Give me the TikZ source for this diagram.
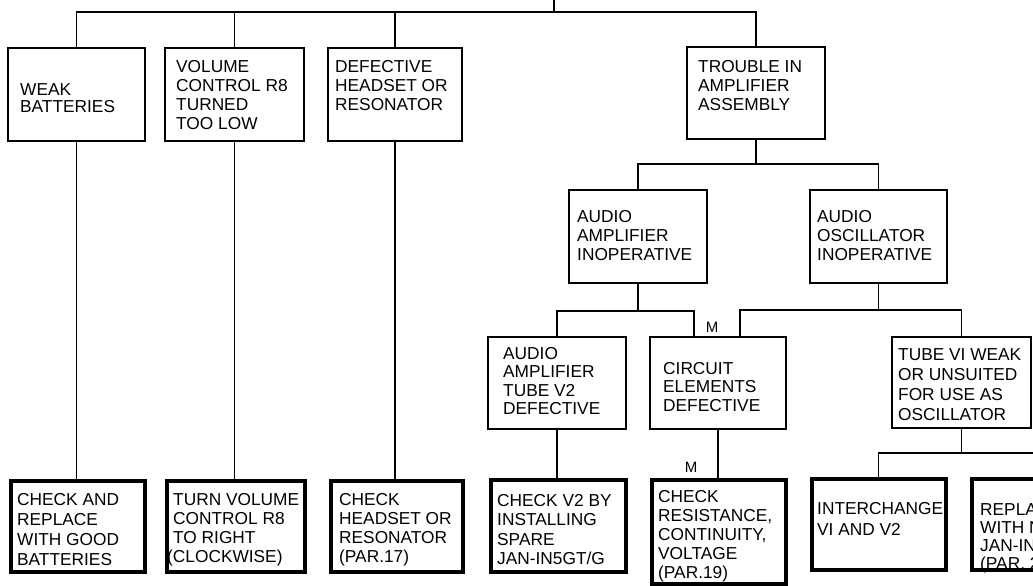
\documentclass[tikz,border=0pt]{standalone}
\usepackage{fontspec}
\setmainfont{Liberation Sans}
\usetikzlibrary{calc}
\tikzset{
  conn/.style={line width=1.8pt},
  sbox/.style={draw, line width=2.1pt, inner sep=0pt},
  tbox/.style={draw, line width=4pt, inner sep=0pt},
  txt/.style={anchor=north west, inner sep=0pt, align=left, font=\fontsize{17.3}{19}\selectfont},
  mlab/.style={inner sep=0pt, font=\fontsize{15}{15}\selectfont},
}
\begin{document}
\begin{tikzpicture}[x=1pt,y=-1pt]
\useasboundingbox (0,0) rectangle (1033,586);
\fill[white] (0,0) rectangle (1033,586);
\clip (0,0) rectangle (1033,586);

% ---- boxes, top row
\node[sbox, minimum width=137pt, minimum height=93pt] (b1) at (76.5,94.5) {};
\node[sbox, minimum width=139pt, minimum height=93pt] (b2) at (234.5,94.5) {};
\node[sbox, minimum width=134pt, minimum height=93pt] (b3) at (395,94.5) {};
\node[sbox, minimum width=138pt, minimum height=92pt] (b4) at (756,93) {};
% ---- second level
\node[sbox, minimum width=138pt, minimum height=93pt] (a1) at (638,236.5) {};
\node[sbox, minimum width=137pt, minimum height=93pt] (a2) at (878.5,236.5) {};
% ---- third level
\node[sbox, minimum width=138pt, minimum height=92pt] (c1) at (557,383) {};
\node[sbox, minimum width=136pt, minimum height=92pt] (c2) at (718,383) {};
\node[sbox, minimum width=139pt, minimum height=91pt] (c3) at (961.5,382.5) {};
% ---- bottom row (remedies)
\node[tbox, minimum width=134pt, minimum height=91pt] (d1) at (77.5,526) {};
\node[tbox, minimum width=138pt, minimum height=91pt] (d2) at (236,526) {};
\node[tbox, minimum width=132pt, minimum height=91pt] (d3) at (397,526) {};
\node[tbox, minimum width=135pt, minimum height=92pt] (d4) at (558,525.5) {};
\node[tbox, minimum width=134pt, minimum height=104pt] (d5) at (718.5,531.5) {};
\node[tbox, minimum width=134pt, minimum height=91pt] (d6) at (878.5,524) {};
\node[tbox, minimum width=134pt, minimum height=91pt] (d7) at (1039,524) {};

% ---- texts
\node[txt, font=\fontsize{17.3}{17.5}\selectfont] at (20,83) {WEAK\\BATTERIES};
\node[txt] at (176,60) {VOLUME\\CONTROL R8\\TURNED\\TOO LOW};
\node[txt] at (335,60) {DEFECTIVE\\HEADSET OR\\RESONATOR};
\node[txt] at (698,60) {TROUBLE IN\\AMPLIFIER\\ASSEMBLY};
\node[txt] at (577,210) {AUDIO\\AMPLIFIER\\INOPERATIVE};
\node[txt] at (817,210) {AUDIO\\OSCILLATOR\\INOPERATIVE};
\node[txt, font=\fontsize{17.3}{18.5}\selectfont] at (503,347) {AUDIO\\AMPLIFIER\\TUBE V2\\DEFECTIVE};
\node[txt, font=\fontsize{17.3}{18.5}\selectfont] at (663,362) {CIRCUIT\\ELEMENTS\\DEFECTIVE};
\node[txt, font=\fontsize{17.3}{20}\selectfont] at (898,348) {TUBE VI WEAK\\OR UNSUITED\\FOR USE AS\\OSCILLATOR};
\node[txt, font=\fontsize{17.3}{20}\selectfont] at (17,493) {CHECK AND\\REPLACE\\WITH GOOD\\BATTERIES};
\node[txt] at (173,493) {TURN VOLUME\\CONTROL R8\\TO RIGHT\\\hspace*{-6pt}(CLOCKWISE)};
\node[txt] at (339,493) {CHECK\\HEADSET OR\\RESONATOR\\(PAR.17)};
\node[txt, font=\fontsize{17.3}{19.5}\selectfont] at (497,494) {CHECK V2 BY\\INSTALLING\\SPARE\\JAN-IN5GT/G};
\node[txt] at (658,490) {CHECK\\RESISTANCE,\\CONTINUITY,\\VOLTAGE\\(PAR.19)};
\node[txt, font=\fontsize{17.3}{21.5}\selectfont] at (817,502) {INTERCHANGE\\VI AND V2};
\node[txt, font=\fontsize{17.3}{18}\selectfont] at (980,503) {REPLA\\WITH N\\JAN-IN\\(PAR. 2};

\node[mlab] (m1) at (712,327) {M};
\node[mlab] (m2) at (691,467) {M};

% ---- connectors
\coordinate (above) at (554,-10);
\coordinate (j0) at (554,12);
\draw[conn] (above) -- (j0);
\draw[conn] (b1.north) |- (j0) -| (b4.north);
\draw[conn] (b2.north) -- (b2.north |- j0);
\draw[conn] (b3.north) -- (b3.north |- j0);

\draw[conn] (b1.south) -- (b1.south |- d1.north);
\draw[conn] (b2.south) -- (b2.south |- d2.north);
\draw[conn] (b3.south) -- (b3.south |- d3.north);

\coordinate (j1) at (756,164);
\draw[conn] (b4.south) -- (j1);
\draw[conn] (a1.north) |- (j1) -| (a2.north);

\coordinate (j2) at (638,311);
\draw[conn] (a1.south) -- (j2);
\draw[conn] (c1.north) |- (j2) -| ([xshift=-24pt]c2.north);

\coordinate (j3) at (878.5,310);
\draw[conn] (a2.south) -- (j3);
\draw[conn] ([xshift=22pt]c2.north) |- (j3) -| (c3.north);

\draw[conn] (c1.south) -- (c1.south |- d4.north);
\draw[conn] (c2.south) -- (c2.south |- d5.north);

\coordinate (j4) at (961.5,453);
\draw[conn] (c3.south) -- (j4);
\draw[conn] (d6.north) |- (j4) -| (d7.north);
\end{tikzpicture}
\end{document}
